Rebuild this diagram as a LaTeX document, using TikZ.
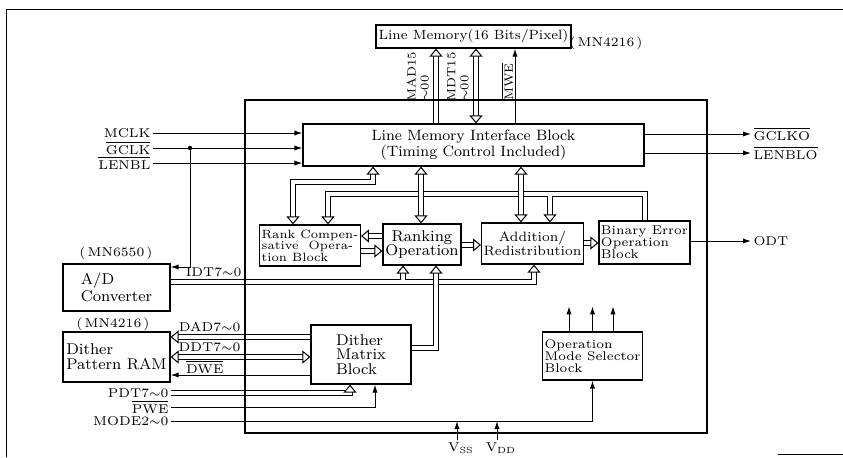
\documentclass[tikz,border=0pt]{standalone}
\usepackage{fontspec}
\usetikzlibrary{arrows.meta}
\newcommand{\ovl}[1]{$\overline{\mbox{#1}}$}
\newcommand{\sigtil}{\ensuremath{\sim}}

\begin{document}
\begin{tikzpicture}[
  x=0.5pt, y=-0.5pt,
  line width=0.5pt,
  > = {Latex[length=4pt, width=2.6pt]},
  blk/.style={draw, line width=0.6pt, inner sep=1pt, align=center,
              font=\fontsize{7.8}{7.4}\selectfont},
  sblk/.style={blk, align=left, font=\fontsize{6.3}{6}\selectfont},
  sig/.style={inner sep=1pt, font=\fontsize{6.4}{6.4}\selectfont},
  rsig/.style={inner sep=1pt, rotate=90, align=left, font=\fontsize{6}{6.5}\selectfont},
  bus/.style={double, double distance=2pt},
  busE/.style={bus, shorten >=2.6pt},
  busB/.style={bus, shorten <=2.6pt, shorten >=2.6pt},
  hd/.style={draw=white, line width=0.05pt,
    arrows={-Triangle[length=4pt, width=6.5pt, fill=white, color=black, line width=0.5pt]}},
  hdd/.style={draw=white, line width=0.05pt,
    arrows={Triangle[length=4pt, width=6.5pt, fill=white, color=black, line width=0.5pt]-Triangle[length=4pt, width=6.5pt, fill=white, color=black, line width=0.5pt]}}
]
  \useasboundingbox (0,0) rectangle (843,457);

  % x and y levels of the wires
  \foreach \n/\v in {mad/436, mdt/476, mwe/515, rca/373, rcb/293, rk/421, ad/521,
                     br/328, bj/550, idt/534, idtr/403, dmv/436, pdt/350, pwe/375,
                     ss/457, dd/497}
    \coordinate (x\n) at (\v,0);
  \foreach \n/\v in {rc/182, bb/194, bj/196, rkl/236, rkr/251, ra/245, ab/243,
                     adin/267, idt/282, idtj/280, dmb/348, dad/337, ddt/357,
                     dwe/375, pin/421}
    \coordinate (y\n) at (0,\v);

  % blocks
  \node[blk, font=\fontsize{6.7}{6.7}\selectfont, minimum width=97.5pt,
        minimum height=11.5pt] (lm) at (473.5,36.5) {Line Memory(16 Bits/Pixel)};
  \node[sig] (lmpn) at (606,43) {(\,MN4216\,)};
  \node[blk, font=\fontsize{7.5}{7.6}\selectfont, minimum width=170.5pt,
        minimum height=21pt] (lmi) at (473.5,145)
        {Line Memory Interface Block\\(Timing Control Included)};
  \node[sblk, font=\fontsize{6}{5.8}\selectfont, minimum width=47pt,
        minimum height=20.5pt] (rc) at (310,245.5)
        {Rank Compen-\\sative\ \ Opera-\\tion Block};
  \node[blk, minimum width=39pt, minimum height=20.5pt] (rk) at (422,244.5)
        {Ranking\\Operation};
  \node[blk, font=\fontsize{6.8}{7.2}\selectfont, minimum width=46.5pt,
        minimum height=20.5pt] (ad) at (532.5,243.5) {Addition/\\Redistribution};
  \node[sblk, minimum width=41.5pt, minimum height=21.5pt] (bin) at (644.5,242.5)
        {Binary Error\\Operation\\Block};
  \node[blk, align=left, minimum width=53.5pt, minimum height=23.5pt] (adc)
        at (116.5,287.5) {A/D\\Converter};
  \node[sig] (adpn) at (116,253) {(\,MN6550\,)};
  \node[blk, align=left, minimum width=53.5pt, minimum height=25pt] (ram)
        at (116.5,357) {Dither\\Pattern RAM};
  \node[sig] (rampn) at (113,324) {(\,MN4216\,)};
  \node[blk, align=left, minimum width=50pt, minimum height=29.5pt] (dm)
        at (361,354.5) {Dither\\Matrix\\Block};
  \node[sblk, minimum width=46.5pt, minimum height=24pt] (oms) at (592.5,356)
        {Operation\\Mode Selector\\Block};

  % signal names
  \node[sig, anchor=east] (mclk)   at (153,133) {MCLK};
  \node[sig, anchor=east] (gclk)   at (153,148) {\ovl{GCLK}};
  \node[sig, anchor=east] (lenbl)  at (153,163) {\ovl{LENBL}};
  \node[sig, anchor=west] (gclko)  at (751,134) {\ovl{GCLKO}};
  \node[sig, anchor=west] (lenblo) at (751,153) {\ovl{LENBLO}};
  \node[sig, anchor=west] (odt)    at (751,241) {ODT};
  \node[sig, anchor=east] (idt)    at (244,272) {IDT7\sigtil 0};
  \node[sig, anchor=east] (dad)    at (243,327) {DAD7\sigtil 0};
  \node[sig, anchor=east] (ddt)    at (243,347) {DDT7\sigtil 0};
  \node[sig, anchor=east] (dwe)    at (226,367) {\ovl{DWE}};
  \node[sig, anchor=east] (pdt)    at (171,393) {PDT7\sigtil 0};
  \node[sig, anchor=east] (pwe)    at (171,407) {\ovl{PWE}};
  \node[sig, anchor=east] (mode)   at (171,421) {MODE2\sigtil 0};
  \node[sig] (vss) at (461,448) {V\textsubscript{SS}};
  \node[sig] (vdd) at (501,448) {V\textsubscript{DD}};
  \node[rsig] (madl) at (418,77) {MAD15\\\sigtil 00};
  \node[rsig] (mdtl) at (458,77) {MDT15\\\sigtil 00};
  \node[rsig] (mwel) at (507,82) {\ovl{MWE}};

  % single wires
  \draw[->] (mclk)  -- (lmi.west |- mclk);
  \draw[->] (gclk)  -- (lmi.west |- gclk);
  \draw[->] (lenbl) -- (lmi.west |- lenbl);
  \coordinate (gj) at (190,148);
  \fill (gj) circle (1.1pt);
  \draw[->] (gj) |- (adc.east |- yadin);
  \draw[->] (lmi.east |- gclko)  -- (gclko);
  \draw[->] (lmi.east |- lenblo) -- (lenblo);
  \draw[->] (bin.east |- odt) -- (odt);
  \draw[->] (lmi.north -| xmwe) -- (lm.south -| xmwe);
  \draw[->] (dm.west |- ydwe) -- (ram.east |- ydwe);
  \draw[->] (pwe) -| (dm.south -| xpwe);
  \draw[->] (mode) -| (oms.south);
  \draw[->] (vss.north -| xss) -- (ypin -| xss);
  \draw[->] (vdd.north -| xdd) -- (ypin -| xdd);
  \foreach \dx in {-11.75, 0, 10.25}
    \draw[->] ([xshift=\dx pt]oms.north) -- ++(0,-25);

  % buses to the line memory
  \draw[busE] (lmi.north -| xmad) -- (lm.south -| xmad);
  \draw[hd]   (lmi.north -| xmad) -- (lm.south -| xmad);
  \draw[busB] (lmi.north -| xmdt) -- (lm.south -| xmdt);
  \draw[hdd]  (lmi.north -| xmdt) -- (lm.south -| xmdt);

  % internal buses
  \draw[busB] (lmi.south -| xrca) |- (yrc -| xrcb) -- (rc.north -| xrcb);
  \draw[hdd]  (lmi.south -| xrca) |- (yrc -| xrcb) -- (rc.north -| xrcb);
  \draw[busE] (bin.north) |- (ybb -| xbr) -- (rc.north -| xbr);
  \draw[hd]   (bin.north) |- (ybb -| xbr) -- (rc.north -| xbr);
  \draw[busE] (ybj -| xbj) -- (ad.north -| xbj);
  \draw[hd]   (ybj -| xbj) -- (ad.north -| xbj);
  \draw[busB] (lmi.south -| xrk) -- (rk.north -| xrk);
  \draw[hdd]  (lmi.south -| xrk) -- (rk.north -| xrk);
  \draw[busB] (lmi.south -| xad) -- (ad.north -| xad);
  \draw[hdd]  (lmi.south -| xad) -- (ad.north -| xad);

  \draw[busE] (rk.west |- yrkl) -- (rc.east |- yrkl);
  \draw[hd]   (rk.west |- yrkl) -- (rc.east |- yrkl);
  \draw[busE] (rc.east |- yrkr) -- (rk.west |- yrkr);
  \draw[hd]   (rc.east |- yrkr) -- (rk.west |- yrkr);
  \draw[busE] (rk.east |- yra) -- (ad.west |- yra);
  \draw[hd]   (rk.east |- yra) -- (ad.west |- yra);
  \draw[busE] (ad.east |- yab) -- (bin.west |- yab);
  \draw[hd]   (ad.east |- yab) -- (bin.west |- yab);

  \draw[busE] (adc.east |- yidt) -| (ad.south -| xidt);
  \draw[hd]   (adc.east |- yidt) -| (ad.south -| xidt);
  \draw[busE] (yidtj -| xidtr) -- (rk.south -| xidtr);
  \draw[hd]   (yidtj -| xidtr) -- (rk.south -| xidtr);
  \draw[busE] (dm.east |- ydmb) -| (rk.south -| xdmv);
  \draw[hd]   (dm.east |- ydmb) -| (rk.south -| xdmv);

  \draw[busE] (dm.west |- ydad) -- (ram.east |- ydad);
  \draw[hd]   (dm.west |- ydad) -- (ram.east |- ydad);
  \draw[busB] (ram.east |- yddt) -- (dm.west |- yddt);
  \draw[hdd]  (ram.east |- yddt) -- (dm.west |- yddt);
  \draw[busE] (pdt) -| (dm.south -| xpdt);
  \draw[hd]   (pdt) -| (dm.south -| xpdt);

  % chip outline and page frame
  \node[draw, line width=0.6pt, inner sep=0pt, minimum width=231pt,
        minimum height=166.5pt] (chip) at (476,266.5) {};
  \draw (6,9) -- (843,9);
  \draw (6,9) -- (6,457);
  \draw (778,454) -- (843,454);
\end{tikzpicture}
\end{document}
